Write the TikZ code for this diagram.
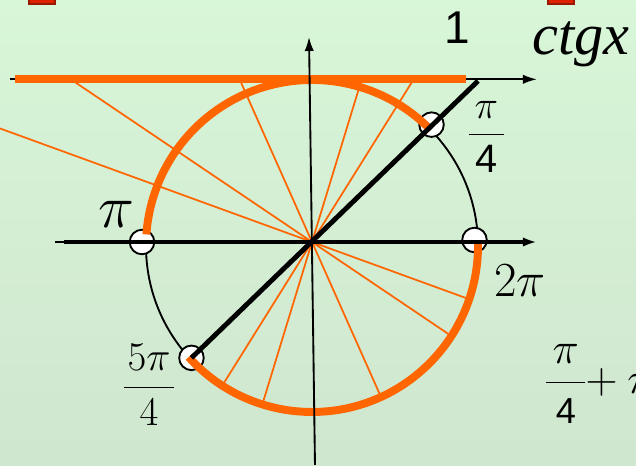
\documentclass[tikz,border=0pt]{standalone}
\usepackage{fix-cm}
\usepackage{fontspec}
\newfontfamily\arialfont{Liberation Sans}
\newfontfamily\timesfont{Liberation Serif}
\usetikzlibrary{arrows.meta}
\definecolor{bgtop}{RGB}{216,246,216}
\definecolor{bgbot}{RGB}{207,230,207}
\definecolor{ctgorange}{RGB}{255,102,0}
\definecolor{tabred}{RGB}{222,34,0}
\begin{document}
\begin{tikzpicture}[scale=2.5,
  ray/.style={ctgorange,line width=0.75pt},
  hot/.style={ctgorange,line width=3.4pt},
  thinaxis/.style={line width=0.8pt,-{Latex[length=6pt,width=4pt]}},
  heavy/.style={line width=2.1pt},
  hole/.style={circle,draw,fill=white,line width=0.8pt,minimum size=0.37cm,inner sep=0pt},
  lbl/.style={inner sep=0pt,anchor=base}]
  \useasboundingbox (-1.8795,-1.3434) rectangle (1.9518,1.4578);
  \clip (-1.8795,-1.3434) rectangle (1.9518,1.4578);
  \shade[top color=bgtop,bottom color=bgbot] (-1.8795,-1.3434) rectangle (1.9518,1.4578);
  \draw[tabred!70!black,fill=tabred,line width=0.6pt] (-1.705,1.434) rectangle (-1.548,1.48);
  \draw[tabred!70!black,fill=tabred,line width=0.6pt] (1.422,1.434) rectangle (1.578,1.48);
  \coordinate (O) at (0,0);
  \coordinate (C) at (0,-0.024);
  \coordinate (one) at (1,0.97);
  % circle and rays
  \draw[line width=0.8pt] (C) circle (1);
  \foreach \a in {58,73,114,146,160}
    \draw[ray] ({0.98*cot(\a)},0.98) -- (\a+180:1);
  \node[hole] (pq) at (0.72,0.707) {};
  \node[hole] (pf) at (-0.726,-0.698) {};
  \node[hole] (pa) at (-1.024,0) {};
  \node[hole] (pb) at (0.979,0.012) {};
  % ctg axis
  \draw[thinaxis] (-1.82,0.98) -- (1.355,0.98);
  \draw[hot] (-1.79,0.98) -- (0.93,0.98);
  \draw[hot] (C) ++(45:1) arc (45:176:1);
  \draw[hot] (C) ++(222:1) arc (222:361:1);
  % axes
  \draw[line width=0.8pt] (-1.548,0) -- (-1.49,0);
  \draw[heavy,-{Latex[length=6pt,width=4pt]}] (-1.494,0) -- (1.355,0);
  \draw[thinaxis] (0.018,-1.343) -- (-0.018,1.235);
  \draw[heavy] (pf.center) -- (one);
  % labels
  \node[lbl,font=\arialfont\fontsize{19.7}{22}\selectfont] (lone) at (0.873,1.193) {1};
  \node[lbl,anchor=base west,font=\timesfont\itshape\fontsize{25}{27}\selectfont] (lctg) at (1.325,1.127) {ctgx};
  \node[lbl,font=\fontsize{26}{28}\selectfont] (lpi) at (-1.178,0.090) {$\pi$};
  \node[lbl,font=\fontsize{21}{23}\selectfont] (ltwopi) at (1.253,-0.331) {$2\pi$};
  \node[lbl,font=\fontsize{17}{18}\selectfont] (lq) at (1.051,0.585) {$\displaystyle\frac{\mkern2.5mu\pi\mkern2.5mu}{\mbox{\arialfont 4}}$};
  \node[lbl,font=\fontsize{17.5}{19}\selectfont] (lf) at (-0.982,-0.938) {$\displaystyle\frac{\mkern1.5mu5\pi\mkern1.5mu}{4}$};
  \node[lbl,anchor=base west,font=\fontsize{19}{21}\selectfont] (lqp) at (1.392,-0.910) {$\displaystyle\frac{\mkern2.6mu\pi\mkern2.6mu}{\mbox{\arialfont\fontsize{15.5}{17}\selectfont 4}}\mkern-5mu+\pi$};
\end{tikzpicture}
\end{document}
